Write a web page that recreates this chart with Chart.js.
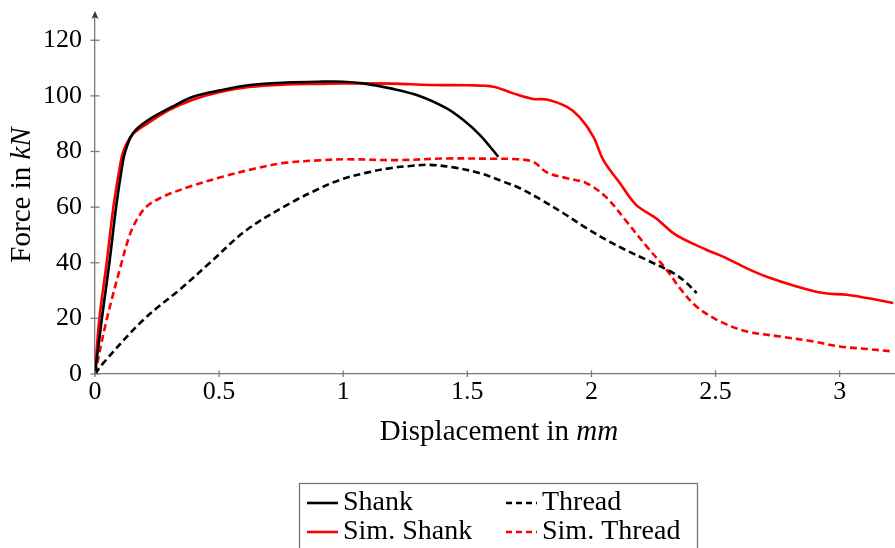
<!DOCTYPE html>
<html><head><meta charset="utf-8">
<script src="https://cdn.jsdelivr.net/npm/chart.js@4"></script>
<style>html,body{margin:0;padding:0;background:#fff;overflow:hidden}#wrap{width:895px;height:548px}</style>
</head><body><div id="wrap"><canvas id="c" width="895" height="548"></canvas></div>
<script>
// ---- data ----
const shankX = [0,0.027,0.058,0.085,0.107,0.121,0.153,0.215,0.309,0.395,0.504,0.625,0.772,0.9,1.0,1.08,1.19,1.31,1.417,1.484,1.551,1.625];
const shankY = [0,19.5,40,60,73.4,79.7,86.6,91.3,96,99.7,102,103.9,104.8,105.1,105.1,104.5,102.7,99.9,95.5,91.3,85.9,78.1];

const threadX = [0,0.034,0.195,0.35,0.463,0.611,0.786,0.9,0.987,1.1,1.189,1.27,1.35,1.45,1.551,1.65,1.712,1.8,1.887,1.97,2.06,2.14,2.223,2.33,2.38,2.424];
const threadY = [0,4,19.5,31,40,51.8,61.4,66.5,69.8,72.5,74,74.8,75.2,74.2,72.2,69,66.8,62.5,57.8,53,48.2,44.5,41,36.3,33,29.1];

const simShankX = [0,0.017,0.047,0.074,0.098,0.114,0.15,0.215,0.3,0.4,0.5,0.62,0.77,0.9,1.08,1.2,1.35,1.5,1.605,1.685,1.765,1.82,1.9,1.954,2.008,2.048,2.115,2.18,2.26,2.34,2.465,2.53,2.626,2.706,2.827,2.934,3.03,3.11,3.216];
const simShankY = [0,19.5,40,60,73.4,80,86,90.3,95,98.8,101.3,103.2,104.1,104.3,104.5,104.4,103.9,103.8,103.3,100.9,98.9,98.7,96.1,92.2,85.3,76.9,68.6,60.8,56,50,44.6,42.2,38,35,31.5,29.1,28.5,27.3,25.5];

const simThreadX = [0,0.047,0.107,0.14,0.168,0.208,0.275,0.383,0.517,0.651,0.772,0.9,1.014,1.215,1.417,1.6,1.685,1.765,1.82,1.9,1.98,2.06,2.14,2.223,2.3,2.357,2.424,2.518,2.626,2.76,2.894,3.0,3.11,3.216];
const simThreadY = [0,19.5,40,50,55.4,60.2,63.8,67.4,71,74,76,76.8,77.2,76.9,77.5,77.4,77.3,76.3,72.5,70.4,68.6,63.5,55,45.8,37.8,30.8,24.2,18.9,15.3,13.5,11.7,9.9,9.0,8.1];

const seriesNames = ['Shank','Thread','Sim. Shank','Sim. Thread'];
const xTickStep = 0.5;
const yTickStep = 20;
const xMax = 3.223;
const yMax = 128;
const xTitle = ['Displacement in ', 'mm'];
const yTitle = ['Force in ', 'kN'];

// ---- styling ----
const FONT = "'Liberation Serif', 'Times New Roman', serif";
const axisColor = '#7a7a7a';
const pts = (xs, ys) => xs.map((x, i) => ({x, y: ys[i]}));
const styles = [
  {color:'#000000', dash:[]},
  {color:'#000000', dash:[7,4]},
  {color:'#ff0000', dash:[]},
  {color:'#ff0000', dash:[7,4]}
];
const seriesData = [pts(shankX, shankY), pts(threadX, threadY), pts(simShankX, simShankY), pts(simThreadX, simThreadY)];

const datasets = seriesNames.map((n, i) => ({
  label: n,
  data: seriesData[i],
  borderColor: styles[i].color,
  backgroundColor: styles[i].color,
  borderDash: styles[i].dash,
  borderWidth: 2.6,
  pointRadius: 0,
  tension: 0.35,
  fill: false
}));

function drawMixed(ctx, parts, x, y, size) {
  ctx.font = size + 'px ' + FONT;
  const w0 = ctx.measureText(parts[0]).width;
  ctx.font = 'italic ' + size + 'px ' + FONT;
  const w1 = ctx.measureText(parts[1]).width;
  let sx = x - (w0 + w1) / 2;
  ctx.textAlign = 'left';
  ctx.textBaseline = 'middle';
  ctx.font = size + 'px ' + FONT;
  ctx.fillText(parts[0], sx, y);
  ctx.font = 'italic ' + size + 'px ' + FONT;
  ctx.fillText(parts[1], sx + w0, y);
}

const decor = {
  id: 'decor',
  afterDraw(chart) {
    const ctx = chart.ctx, a = chart.chartArea, xs = chart.scales.x, ys = chart.scales.y;
    ctx.save();
    ctx.strokeStyle = axisColor;
    ctx.lineWidth = 1.3;
    const line = (x1, y1, x2, y2) => { ctx.beginPath(); ctx.moveTo(x1, y1); ctx.lineTo(x2, y2); ctx.stroke(); };
    line(a.left, a.top, a.left, 15);
    ctx.fillStyle = '#333';
    ctx.beginPath();
    ctx.moveTo(a.left, 11); ctx.lineTo(a.left - 3.5, 19); ctx.lineTo(a.left, 17); ctx.lineTo(a.left + 3.5, 19);
    ctx.closePath(); ctx.fill();
    ys.ticks.forEach(t => { const p = ys.getPixelForValue(t.value); line(a.left - 4.5, p, a.left + 4.5, p); });
    xs.ticks.forEach(t => { const p = xs.getPixelForValue(t.value); line(p, a.bottom - 3.5, p, a.bottom + 3); });
    ctx.fillStyle = '#000';
    drawMixed(ctx, xTitle, (a.left + a.right) / 2 + 4, 432, 29);
    ctx.save();
    ctx.translate(22, 195);
    ctx.rotate(-Math.PI / 2);
    drawMixed(ctx, yTitle, 0, 0, 29);
    ctx.restore();
    // legend
    ctx.strokeStyle = '#777';
    ctx.lineWidth = 1.3;
    ctx.strokeRect(299.5, 483.5, 398, 80);
    const cols = [307, 506], rows = [503, 532];
    const order = [[0, 0, 0], [1, 1, 0], [2, 0, 1], [3, 1, 1]];
    ctx.font = '28px ' + FONT;
    ctx.textAlign = 'left';
    ctx.textBaseline = 'middle';
    order.forEach(([i, c, r]) => {
      const x = cols[c], y = rows[r];
      ctx.strokeStyle = styles[i].color;
      ctx.lineWidth = 2.6;
      ctx.setLineDash(styles[i].dash.length ? [6, 4] : []);
      line(x, y, x + 31, y);
      ctx.setLineDash([]);
      ctx.fillStyle = '#000';
      ctx.fillText(seriesNames[i], x + 36, y);
    });
    ctx.restore();
  }
};

const zeroPad = s => { s.paddingTop = 0; s.paddingBottom = 0; s.paddingLeft = 0; s.paddingRight = 0; };

new Chart(document.getElementById('c'), {
  type: 'line',
  data: { datasets },
  options: {
    responsive: false,
    animation: false,
    devicePixelRatio: 1,
    layout: { padding: { top: 18, right: 0, left: 0, bottom: 0 } },
    plugins: { legend: { display: false }, tooltip: { enabled: false }, title: { display: false } },
    scales: {
      x: {
        type: 'linear', min: 0, max: xMax,
        grid: { display: false, drawTicks: false, tickLength: 0 },
        border: { display: true, color: axisColor, width: 1.3 },
        ticks: {
          stepSize: xTickStep, includeBounds: false, padding: 3, color: '#000',
          font: { family: FONT, size: 26 }, maxRotation: 0,
          callback: v => String(v)
        },
        afterFit: s => { s.height = 174; zeroPad(s); }
      },
      y: {
        type: 'linear', min: 0, max: yMax,
        grid: { display: false, drawTicks: false, tickLength: 0 },
        border: { display: true, color: axisColor, width: 1.3 },
        ticks: {
          stepSize: yTickStep, includeBounds: false, padding: 13, color: '#000',
          font: { family: FONT, size: 26 },
          callback: v => String(v)
        },
        afterFit: s => { s.width = 95; zeroPad(s); }
      }
    }
  },
  plugins: [decor]
});
</script>
</body></html>
